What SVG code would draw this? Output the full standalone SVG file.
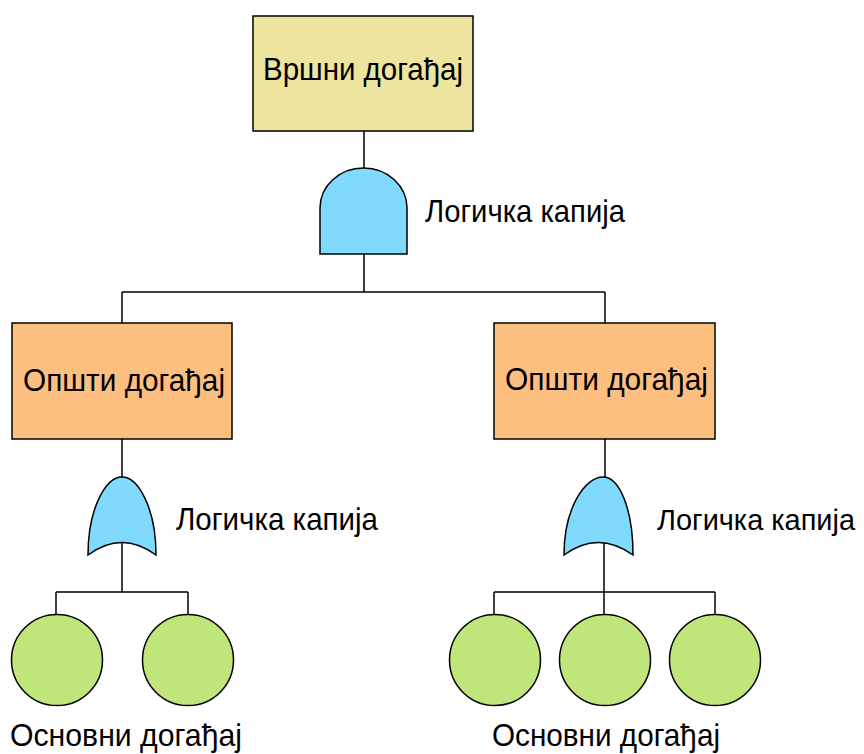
<svg xmlns="http://www.w3.org/2000/svg" width="864" height="754" viewBox="0 0 864 754">
  <style>
    .ln { stroke: #000; stroke-width: 1.5; fill: none; }
    .sh { stroke: #000; stroke-width: 1.5; }
    .top { fill: #ECE49F; }
    .mid { fill: #FDBF80; }
    .gate { fill: #80DAFD; }
    .basic { fill: #C0E57A; }
    .t { font-family: "Liberation Sans", Arial, sans-serif; font-size: 31.5px; fill: #000; }
    .edge { font-size: 30px; }
  </style>
  <rect x="0" y="0" width="864" height="754" fill="#fff"/>
  <g id="connectors">
    <path class="ln" d="M364,131 V168 M364,254 V292 M122,292 H605 M122,292 V323 M605,292 V323"/>
    <path class="ln" d="M122,439 V477 M605,439 V477"/>
    <path class="ln" d="M122,543 V592 M56,592 H188 M56,592 V614 M188,592 V614"/>
    <path class="ln" d="M604,543 V592 M494,592 H715 M494,592 V614 M604,592 V614 M715,592 V614"/>
  </g>
  <g id="top-event">
    <rect class="sh top" x="253" y="16" width="220" height="115"/>
    <text class="t" x="263" y="80" textLength="200" lengthAdjust="spacingAndGlyphs">Вршни догађај</text>
  </g>
  <g id="gate-and">
    <path class="sh gate" d="M320,254 L320,208 A43.5,40 0 0 1 407,208 L407,254 Z"/>
    <text class="t" x="425" y="222" textLength="200" lengthAdjust="spacingAndGlyphs">Логичка капија</text>
  </g>
  <g id="event-left">
    <rect class="sh mid" x="12" y="323" width="220" height="116"/>
    <text class="t" x="23" y="391" textLength="202" lengthAdjust="spacingAndGlyphs">Општи догађај</text>
  </g>
  <g id="event-right">
    <rect class="sh mid" x="494" y="323" width="221" height="116"/>
    <text class="t" x="505" y="390" textLength="203" lengthAdjust="spacingAndGlyphs">Општи догађај</text>
  </g>
  <g id="gate-or-left">
    <path class="sh gate" d="M122,477 C106,477 88,508 88,555 Q122,530 156,555 C156,508 138,477 122,477 Z"/>
    <text class="t" x="176" y="530" textLength="202" lengthAdjust="spacingAndGlyphs">Логичка капија</text>
  </g>
  <g id="gate-or-right">
    <path class="sh gate" d="M603,477 C585,477 564,508 564,555 Q598,530 633,555 C633,508 619,477 603,477 Z"/>
    <text class="t edge" x="657" y="530" textLength="198" lengthAdjust="spacingAndGlyphs">Логичка капија</text>
  </g>
  <g id="basic-left">
    <circle class="sh basic" cx="57" cy="660" r="45.5"/>
    <circle class="sh basic" cx="188" cy="660" r="45.5"/>
    <text class="t" x="10" y="746" textLength="232" lengthAdjust="spacingAndGlyphs">Основни догађај</text>
  </g>
  <g id="basic-right">
    <circle class="sh basic" cx="495" cy="660" r="45.5"/>
    <circle class="sh basic" cx="605" cy="660" r="45.5"/>
    <circle class="sh basic" cx="715" cy="660" r="45.5"/>
    <text class="t" x="492" y="746" textLength="228" lengthAdjust="spacingAndGlyphs">Основни догађај</text>
  </g>
</svg>
